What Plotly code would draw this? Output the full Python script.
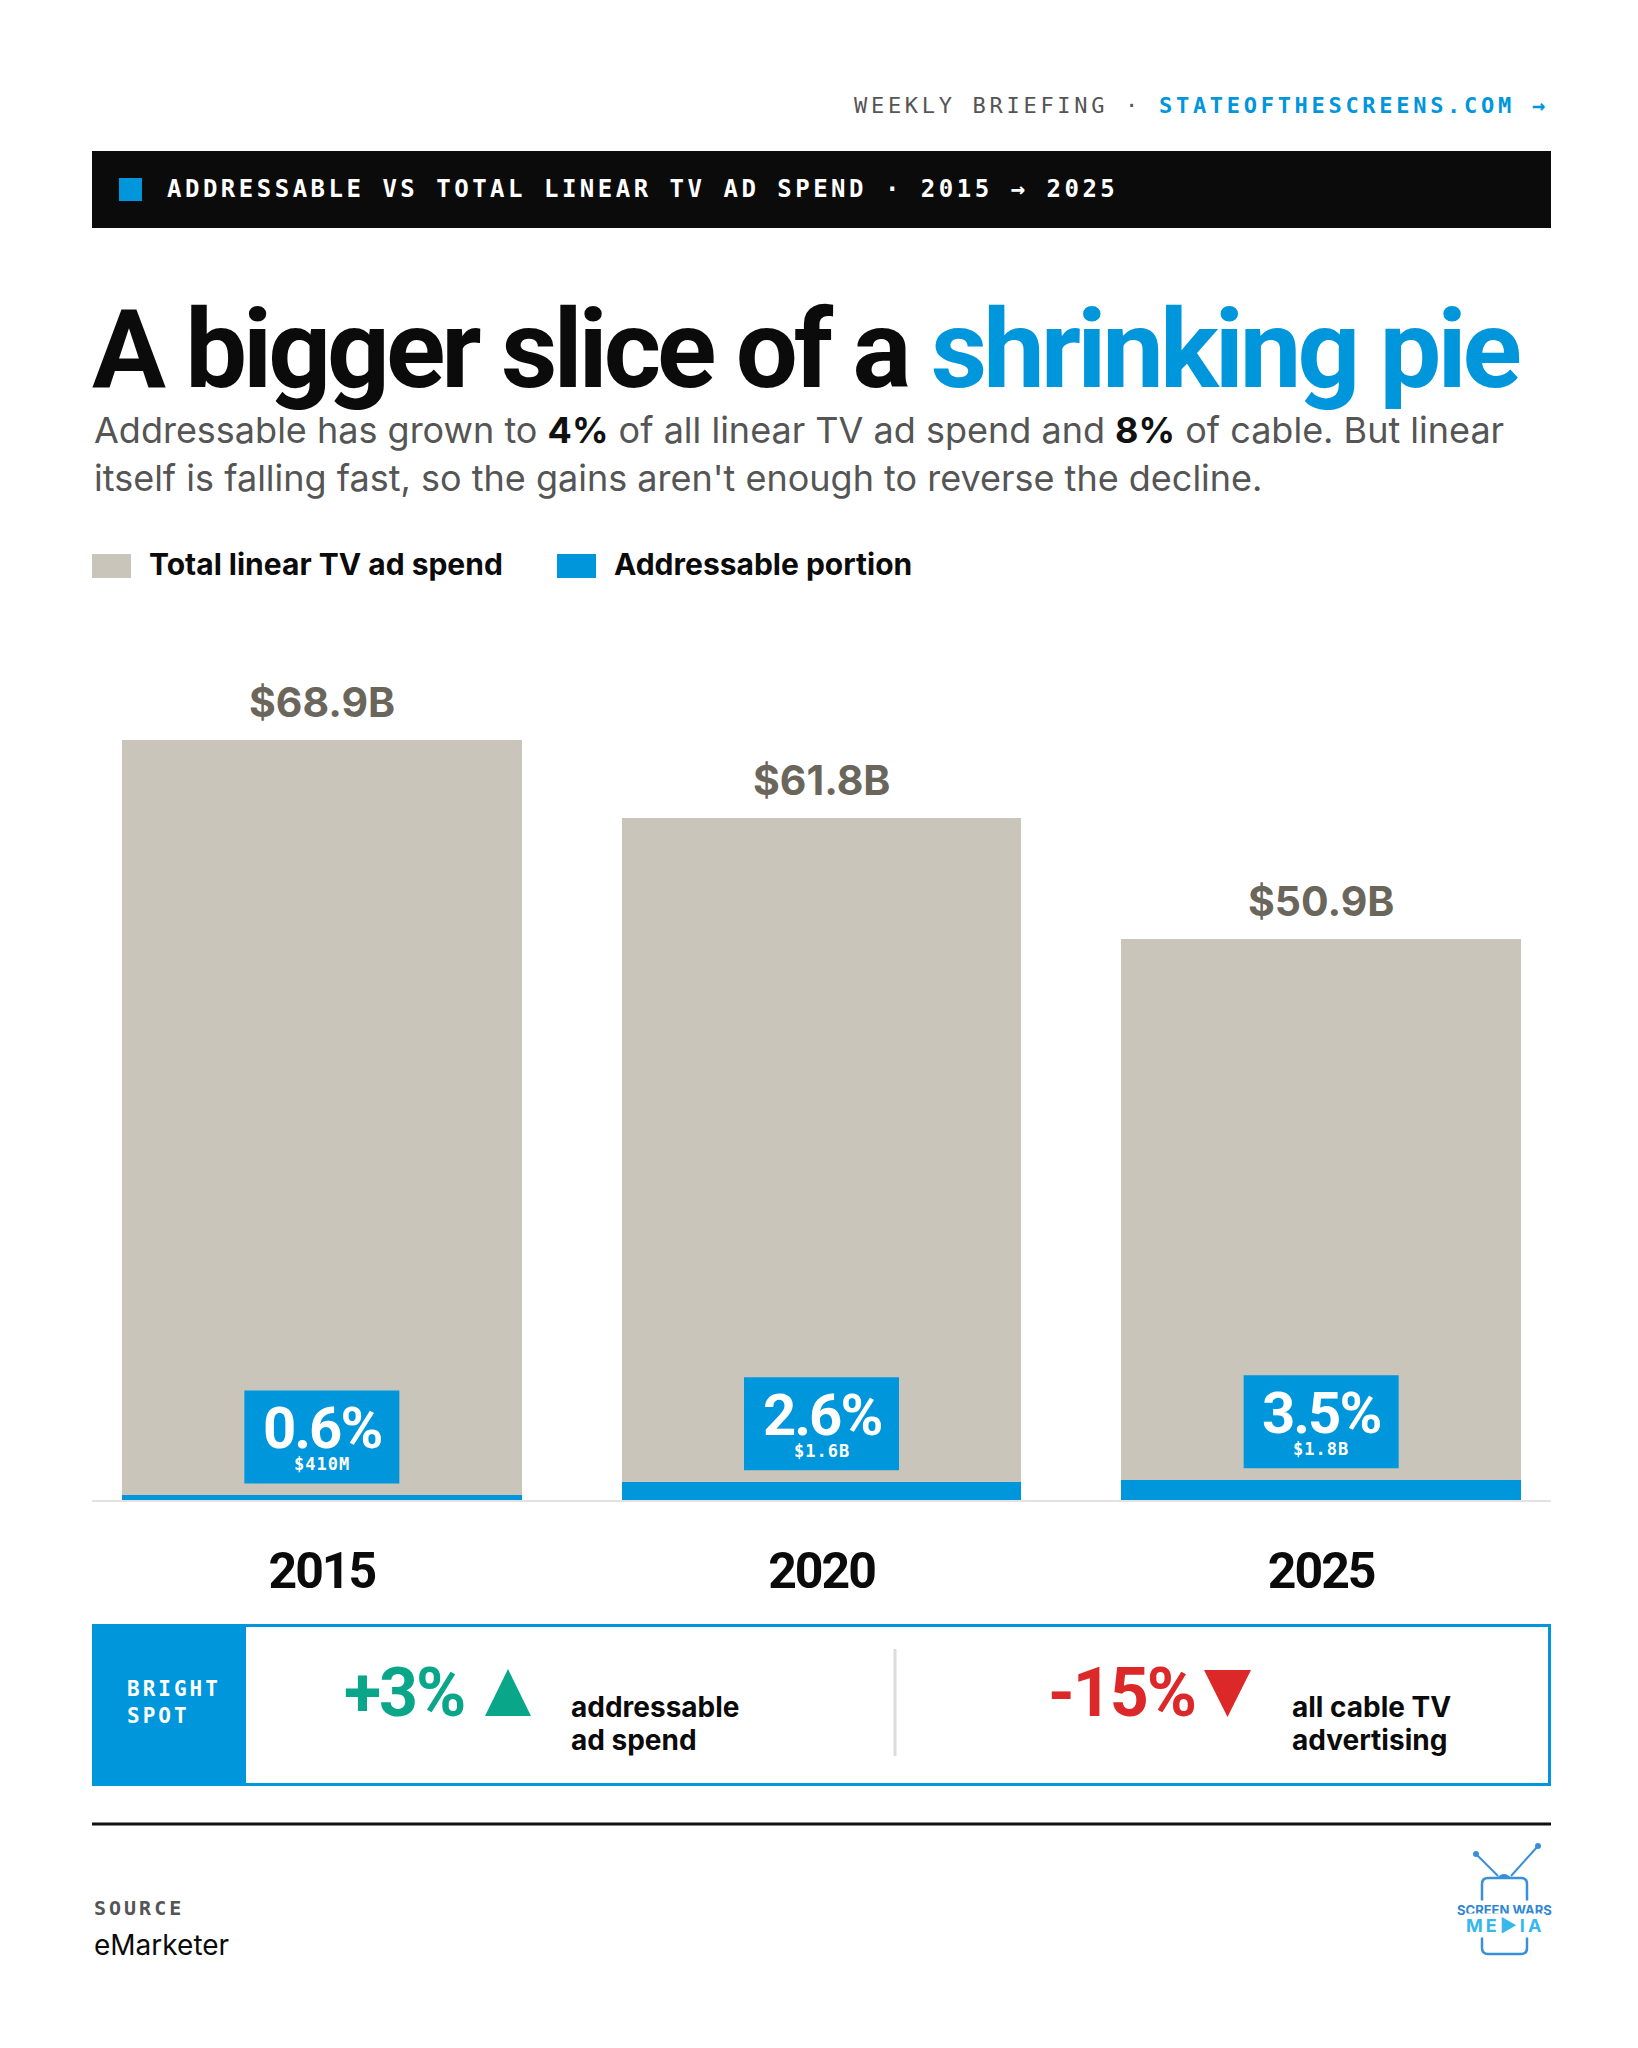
import plotly.graph_objects as go

# page has an 8px body margin, so the figure is drawn smaller and
# the pixel overlay axes start at 8
OFF = 8
W, H = 1638 - 2 * OFF, 2048 - 2 * OFF

# data (eMarketer)
years = ["2015", "2020", "2025"]
total_spend = [68.9, 61.8, 50.9]          # $B, total linear TV ad spend
addressable_spend = [0.41, 1.6, 1.8]      # $B, addressable portion
addressable_share = [0.6, 2.6, 3.5]       # % of total
addressable_labels = ["$410M", "$1.6B", "$1.8B"]

stat_values = ["+3%", "-15%"]
stat_labels = [["addressable", "ad spend"], ["all cable TV", "advertising"]]

BLUE = "#0096dc"
GREY_BAR = "#c9c5ba"
LABEL = "#6b665c"
INK = "#0b0b0b"
GREEN = "#0aa68a"
RED = "#dc2828"
DISPLAY = "Roboto, Liberation Sans, sans-serif"
INTER = "Inter, Roboto, sans-serif"
MONO = "DejaVu Sans Mono, Liberation Mono, monospace"

# plot area in reference pixels
PL, PR, PT, PB = 92, 1551, 620, 1500
PX_PER_B = 760 / 68.9

fig = go.Figure()

fig.add_trace(go.Bar(
    x=years, y=total_spend, width=0.8, marker_color=GREY_BAR,
    marker_line_width=0, name="Total linear TV ad spend", hoverinfo="skip"
))
fig.add_trace(go.Bar(
    x=years, y=addressable_spend, width=0.8, marker_color=BLUE,
    marker_line_width=0, name="Addressable portion", hoverinfo="skip"
))
# empty trace so the pixel overlay axes exist
fig.add_trace(go.Scatter(x=[], y=[], xaxis="x2", yaxis="y2", showlegend=False))

ann = []
shapes = []


def txt(x, yb, s, size, color=INK, family=INTER, weight="normal", xanchor="left", **kw):
    # yb = baseline in pixels
    ann.append(dict(xref="x2", yref="y2", x=x, y=yb - 0.35 * size, text=s,
                    showarrow=False, xanchor=xanchor, yanchor="middle",
                    font=dict(family=family, size=size, color=color, weight=weight), **kw))


def rect(x0, y0, x1, y1, fill, line_color=None, lw=0):
    shapes.append(dict(type="rect", xref="x2", yref="y2", x0=x0, y0=y0, x1=x1, y1=y1,
                       fillcolor=fill, line=dict(color=line_color or fill, width=lw), layer="above"))


def line(x0, y0, x1, y1, color, lw):
    shapes.append(dict(type="line", xref="x2", yref="y2", x0=x0, y0=y0, x1=x1, y1=y1,
                       line=dict(color=color, width=lw), layer="above"))


def path(d, fill=None, color=None, lw=0):
    shapes.append(dict(type="path", xref="x2", yref="y2", path=d,
                       fillcolor=fill or "rgba(0,0,0,0)",
                       line=dict(color=color or "rgba(0,0,0,0)", width=lw), layer="above"))


def spaced(s, px):
    return f"<span style='letter-spacing:{px}px'>{s}</span>"


# header
txt(1551, 113, spaced("WEEKLY BRIEFING · ", 3.7)
    + f"<span style='color:{BLUE};letter-spacing:3.7px'><b>STATEOFTHESCREENS.COM →</b></span>",
    22, color="#555555", family=MONO, xanchor="right")

# black banner
rect(92, 151, 1551, 228, INK)
rect(119, 178, 142, 201, BLUE)
txt(165, 197, spaced("ADDRESSABLE VS TOTAL LINEAR TV AD SPEND · 2015 → 2025", 3.5),
    24, color="white", family=MONO, weight="bold")

# headline + deck
txt(90, 388, spaced("A bigger slice of a ", -4)
    + f"<span style='color:{BLUE};letter-spacing:-4px'>shrinking pie</span>",
    110, color=INK, family=DISPLAY, weight="bold")
txt(92, 443, "Addressable has grown to <b style='color:#111'>4%</b> of all linear TV ad spend and "
    "<b style='color:#111'>8%</b> of cable. But linear", 36, color="#555555")
txt(92, 491, "itself is falling fast, so the gains aren't enough to reverse the decline.",
    36, color="#555555")

# legend
rect(92, 554, 131, 578, GREY_BAR)
txt(147, 574, "Total linear TV ad spend", 30, weight="bold")
rect(557, 554, 596, 578, BLUE)
txt(612, 574, "Addressable portion", 30, weight="bold")

# bar annotations
for i, yr in enumerate(years):
    ann.append(dict(xref="x", yref="y", x=i, y=total_spend[i], yshift=38,
                    text=f"${total_spend[i]}B", showarrow=False, yanchor="middle",
                    font=dict(family=INTER, size=41, color=LABEL, weight="bold")))
    shapes.append(dict(type="rect", xref="x", yref="y", xsizemode="pixel", ysizemode="pixel",
                       xanchor=i, yanchor=addressable_spend[i], x0=-77.5, x1=77.5, y0=12, y1=105,
                       fillcolor=BLUE, line=dict(width=0), layer="above"))
    share = (f"<span style='font-family:Roboto;font-size:58px;font-weight:bold;"
             f"letter-spacing:-2px'>{addressable_share[i]}%</span>")
    ann.append(dict(xref="x", yref="y", x=i, y=addressable_spend[i], yshift=20,
                    text=share + "<br>" + spaced(addressable_labels[i], 1), showarrow=False,
                    yanchor="bottom", borderpad=0,
                    font=dict(family=MONO, size=17, color="white", weight="bold")))

# bright spot card
rect(93.5, 1625.5, 1549.5, 1784.5, "white", BLUE, 3)
rect(92, 1624, 246, 1786, BLUE)
txt(125, 1696, spaced("BRIGHT", 3), 21, color="white", family=MONO, weight="bold")
txt(125, 1723, spaced("SPOT", 3), 21, color="white", family=MONO, weight="bold")
line(895, 1649, 895, 1756, "#dcdcdc", 3)

txt(342, 1717, spaced(stat_values[0], -2), 68, color=GREEN, family=DISPLAY, weight="bold")
path("M 485 1716 L 508 1669 L 531 1716 Z", fill=GREEN)
txt(569, 1717, stat_labels[0][0], 28, weight="bold")
txt(569, 1750, stat_labels[0][1], 28, weight="bold")

txt(1046, 1717, spaced(stat_values[1], -2), 68, color=RED, family=DISPLAY, weight="bold")
path("M 1204 1670 L 1251 1670 L 1227.5 1717 Z", fill=RED)
txt(1290, 1717, stat_labels[1][0], 28, weight="bold")
txt(1290, 1750, stat_labels[1][1], 28, weight="bold")

# footer
line(92, 1824, 1551, 1824, "#111111", 3)
txt(92, 1915, spaced("SOURCE", 3), 20, color="#555555", family=MONO, weight="bold")
txt(92, 1955, "eMarketer", 28)

# logo
LOGO = "#3a8fd9"
line(1476, 1854, 1498, 1876, LOGO, 2)
line(1538, 1846, 1511, 1876, LOGO, 2)
shapes.append(dict(type="circle", xref="x2", yref="y2", x0=1473, y0=1851, x1=1479, y1=1857,
                   fillcolor=LOGO, line=dict(width=0), layer="above"))
shapes.append(dict(type="circle", xref="x2", yref="y2", x0=1535, y0=1843, x1=1541, y1=1849,
                   fillcolor=LOGO, line=dict(width=0), layer="above"))
path("M 1496 1879 Q 1504 1869 1512 1879 Z", fill=LOGO)
path("M 1488 1878 L 1521 1878 Q 1527 1878 1527 1884 L 1527 1948 Q 1527 1954 1521 1954 "
     "L 1488 1954 Q 1482 1954 1482 1948 L 1482 1884 Q 1482 1878 1488 1878 Z",
     color=LOGO, lw=2.5)
ann.append(dict(xref="x2", yref="y2", x=1504, y=1910, text="<b>SCREEN WARS</b>", showarrow=False,
                bgcolor="white", borderpad=1,
                font=dict(family=INTER, size=13, color="#2f86d2")))
ann.append(dict(xref="x2", yref="y2", x=1505, y=1925, text=spaced("ME▶IA", 3), showarrow=False,
                bgcolor="white", borderpad=1,
                font=dict(family=INTER, size=18, color="#38b8ea", weight="bold")))

fig.update_layout(
    width=W, height=H,
    margin=dict(l=0, r=0, t=0, b=0, pad=0),
    paper_bgcolor="white", plot_bgcolor="rgba(0,0,0,0)",
    barmode="overlay", bargap=0, showlegend=False,
    xaxis=dict(domain=[(PL - OFF) / W, (PR - OFF) / W], range=[-0.46, 2.46], type="category",
               showgrid=False, zeroline=False, ticks="", showline=True,
               linecolor="#e2e2e2", linewidth=2, ticklabelstandoff=26,
               tickmode="array", tickvals=years, ticktext=[spaced(y, -2) for y in years],
               tickfont=dict(family=DISPLAY, size=50, color=INK, weight="bold"),
               fixedrange=True),
    yaxis=dict(domain=[(H + OFF - PB) / H, (H + OFF - PT) / H], range=[0, (PB - PT) / PX_PER_B],
               visible=False, fixedrange=True),
    xaxis2=dict(domain=[0, 1], range=[OFF, W + OFF], visible=False, anchor="y2", fixedrange=True),
    yaxis2=dict(domain=[0, 1], range=[H + OFF, OFF], visible=False, anchor="x2", fixedrange=True),
    annotations=ann,
    shapes=shapes,
)

fig.write_html("out.html")
